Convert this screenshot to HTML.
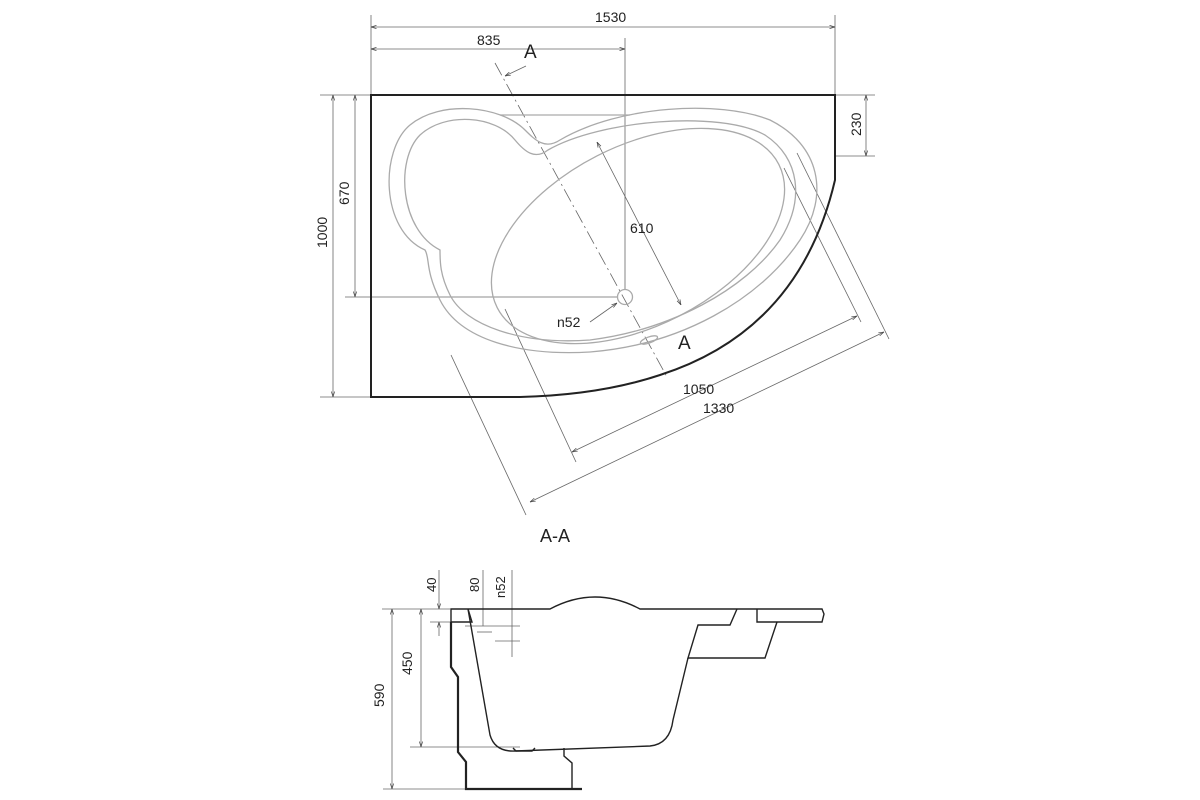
<!DOCTYPE html>
<html><head><meta charset="utf-8"><style>
html,body{margin:0;padding:0;background:#fff;}
svg{display:block;font-family:"Liberation Sans",sans-serif;}
</style></head><body>
<svg width="1200" height="800" viewBox="0 0 1200 800" xmlns="http://www.w3.org/2000/svg">
<defs>
<marker id="ar" viewBox="0 0 10 10" refX="10" refY="5" markerWidth="7" markerHeight="7" orient="auto-start-reverse"><path d="M0,2 L10,5 L0,8" fill="none" stroke="#444" stroke-width="1.2"/></marker>
</defs>
<g fill="#222" font-size="14">
<!-- top view extension/dim lines -->
<g stroke="#666" stroke-width="0.8" fill="none">
<line x1="371" y1="15" x2="371" y2="95"/>
<line x1="835" y1="15" x2="835" y2="95"/>
<line x1="371" y1="27" x2="835" y2="27" marker-start="url(#ar)" marker-end="url(#ar)"/>
<line x1="371" y1="49" x2="625" y2="49" marker-start="url(#ar)" marker-end="url(#ar)"/>
<line x1="625" y1="38" x2="625" y2="290"/>
<line x1="320" y1="95" x2="875" y2="95"/>
<line x1="320" y1="397" x2="371" y2="397"/>
<line x1="333" y1="95" x2="333" y2="397" marker-start="url(#ar)" marker-end="url(#ar)"/>
<line x1="355" y1="95" x2="355" y2="297" marker-start="url(#ar)" marker-end="url(#ar)"/>
<line x1="345" y1="297" x2="618" y2="297"/>
<line x1="835" y1="156" x2="875" y2="156"/>
<line x1="866" y1="95" x2="866" y2="156" marker-start="url(#ar)" marker-end="url(#ar)"/>
<line x1="597" y1="142" x2="681" y2="305" marker-start="url(#ar)" marker-end="url(#ar)"/>
<line x1="590" y1="322" x2="617" y2="303" marker-end="url(#ar)"/>
<line x1="495" y1="63" x2="667" y2="377" stroke-dasharray="14,4,2,4"/>
<line x1="526" y1="66" x2="505" y2="76" marker-end="url(#ar)"/>
<line x1="784" y1="168" x2="861" y2="322"/>
<line x1="797" y1="153" x2="889" y2="339"/>
<line x1="505" y1="309" x2="576" y2="462"/>
<line x1="451" y1="355" x2="526" y2="515"/>
<line x1="857" y1="316" x2="572" y2="452" marker-start="url(#ar)" marker-end="url(#ar)"/>
<line x1="884" y1="332" x2="530" y2="502" marker-start="url(#ar)" marker-end="url(#ar)"/>
</g>
<!-- outline -->
<path d="M371,95 L835,95 L835,180 Q800,330 660,375 Q600,395 520,397 L371,397 Z" fill="none" stroke="#222" stroke-width="2"/>
<!-- inner gray -->
<g fill="none" stroke="#aaa" stroke-width="1.3">
<ellipse cx="638" cy="236" rx="158" ry="90" transform="rotate(-27 638 236)"/>
<path d="M560,140 C620,105 720,100 770,120 C820,145 830,195 800,240 C760,300 680,345 590,352 C520,356 460,340 440,300 C425,270 430,258 425,250 C380,230 380,150 410,125 C440,100 500,105 525,130 C535,140 545,150 560,140 Z"/>
<path d="M548,150 C600,120 720,110 765,135 C800,158 805,200 780,240 C745,290 670,330 590,340 C520,345 465,325 450,295 C440,275 440,262 440,250 C400,230 395,160 420,135 C445,112 495,115 515,140 C525,152 535,160 548,150 Z"/>
<line x1="500" y1="115" x2="630" y2="115"/>
<circle cx="625" cy="297" r="7.5"/>
<ellipse cx="649" cy="340" rx="9" ry="3" transform="rotate(-20 649 340)"/>
</g>
<text x="595" y="22">1530</text>
<text x="477" y="45">835</text>
<text x="524" y="58" font-size="19">A</text>
<text x="678" y="349" font-size="19">A</text>
<text x="630" y="233">610</text>
<text x="557" y="327">n52</text>
<text x="683" y="394">1050</text>
<text x="703" y="413">1330</text>
<text transform="translate(327,248) rotate(-90)">1000</text>
<text transform="translate(349,205) rotate(-90)">670</text>
<text transform="translate(861,136) rotate(-90)">230</text>
<text x="540" y="542" font-size="18">A-A</text>
<!-- section view dims -->
<g stroke="#666" stroke-width="0.8" fill="none">
<line x1="382" y1="609" x2="450" y2="609"/>
<line x1="383" y1="789" x2="470" y2="789"/>
<line x1="392" y1="609" x2="392" y2="789" marker-start="url(#ar)" marker-end="url(#ar)"/>
<line x1="410" y1="747" x2="520" y2="747"/>
<line x1="421" y1="609" x2="421" y2="747" marker-start="url(#ar)" marker-end="url(#ar)"/>
<line x1="439" y1="570" x2="439" y2="609" marker-end="url(#ar)"/>
<line x1="439" y1="636" x2="439" y2="622" marker-end="url(#ar)"/>
<line x1="430" y1="622" x2="470" y2="622"/>
<line x1="483" y1="570" x2="483" y2="626"/>
<line x1="465" y1="626" x2="520" y2="626"/>
<line x1="477" y1="632" x2="492" y2="632"/>
<line x1="512" y1="570" x2="512" y2="657"/>
<line x1="495" y1="641" x2="520" y2="641"/>
</g>
<text transform="translate(436,592) rotate(-90)" font-size="13">40</text>
<text transform="translate(479,592) rotate(-90)" font-size="13">80</text>
<text transform="translate(505,598) rotate(-90)" font-size="13">n52</text>
<text transform="translate(412,675) rotate(-90)">450</text>
<text transform="translate(384,707) rotate(-90)">590</text>
<!-- section outline -->
<g fill="none" stroke="#222" stroke-width="1.4">
<path d="M451,622 L451,609 L550,609 Q595,585 640,609 L822,609 L824,614 L822,622 L757,622 L757,609"/>
<path d="M737,609 L730,625 L698,625 L688,658 L765,658 L777,622"/>
<path d="M468,609 L472,622 L451,622"/>
<path d="M468,609 L490,735 Q495,752 515,751 L650,746 Q670,744 673,720 L688,658"/>
<path d="M564,748 L564,756 L572,763 L572,789"/>
<path d="M513,748 L516,751 L532,751 L535,748"/>
</g>
<path d="M451,622 L451,667 L458,677 L458,752 L466,762 L466,789 L582,789" fill="none" stroke="#222" stroke-width="2.2"/>
</g>
</svg>
</body></html>
